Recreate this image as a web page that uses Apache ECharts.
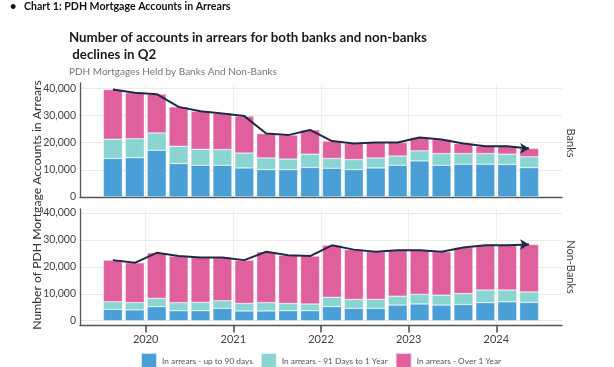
<!DOCTYPE html>
<html><head><meta charset="utf-8">
<script src="https://cdn.jsdelivr.net/npm/echarts@6/dist/echarts.min.js"></script>
<style>html,body{margin:0;padding:0;background:#fff}#c{width:614px;height:367px}</style>
</head><body><div id="c"></div>
<script>
const quarters = ['2019Q3','2019Q4','2020Q1','2020Q2','2020Q3','2020Q4','2021Q1','2021Q2','2021Q3','2021Q4',
                  '2022Q1','2022Q2','2022Q3','2022Q4','2023Q1','2023Q2','2023Q3','2023Q4','2024Q1','2024Q2'];
const yearTicks = [2020, 2021, 2022, 2023, 2024];
const valueTicks = [0, 10000, 20000, 30000, 40000];
const seriesNames = ['In arrears - up to 90 days', 'In arrears - 91 Days to 1 Year', 'In arrears - Over 1 Year'];

const banksUpTo90 = [14200,14500,17200,12300,11700,11700,10700,10100,10100,10900,10600,10100,10700,11700,13300,11700,12100,12100,12000,10800];
const banks91To1Y = [7100,7000,6400,6400,5900,5800,5500,4300,3900,4900,3600,3700,3700,3400,3700,4300,3900,3900,3800,4000];
const banksOver1Y = [18300,16900,14300,14500,14000,13300,13600,9000,8800,8900,6400,5900,5700,5000,4900,5200,3700,2700,2900,3100];

const nonBanksUpTo90 = [4200,4000,5200,3700,3700,4600,3600,3600,3700,3700,5200,4600,4600,5800,6200,5800,6000,6700,7000,6800];
const nonBanks91To1Y = [2800,2700,3100,3000,3100,2800,2800,3100,2700,2500,3500,3300,3300,3300,3600,3700,4100,4700,4400,3900];
const nonBanksOver1Y = [15500,14800,16900,17300,16700,16100,16100,18900,17900,17800,19300,18500,17700,17100,16400,16100,17100,16600,16600,17600];

const colors = ['#4a9fd6', '#8ad5d2', '#e0609d'];
const lineColor = '#1d2a44';
const FONT = 'Lato';

// Time range of the panels (years): quarters sit in the middle of their slot
const X_MIN = 2019.25, X_MAX = 2024.75;
const firstYear = +quarters[0].slice(0, 4) + (+quarters[0].slice(5) - 1) / 4;
const lastQ = quarters[quarters.length - 1];
const lastYearEnd = +lastQ.slice(0, 4) + (+lastQ.slice(5)) / 4;

const PLOT_L = 80, PLOT_R = 562;
const pxPerYear = (PLOT_R - PLOT_L) / (X_MAX - X_MIN);
const barGridLeft = PLOT_L + (firstYear - X_MIN) * pxPerYear;
const barGridRight = 614 - (PLOT_R - (X_MAX - lastYearEnd) * pxPerYear);

const totals = arrs => arrs[0].map((_, i) => arrs.reduce((s, a) => s + a[i], 0));
const lineData = arr => arr.map((v, i) => i === arr.length - 1
  ? { value: v, symbol: 'arrow', symbolSize: [8, 9], symbolRotate: -90 }
  : v);
const fmt = v => v.toLocaleString('en-US');

const panels = [
  { top: 83, height: 114, min: 0, max: 42000 },
  { top: 209, height: 116.5, min: -1800, max: 41500 }
];

function axisX(gridIndex, showLabels) {
  return {
    type: 'value', gridIndex, min: X_MIN, max: X_MAX,
    axisLine: { show: true, onZero: false, lineStyle: { color: '#555', width: 1.3 } },
    axisTick: { show: showLabels, customValues: yearTicks, length: 7, lineStyle: { color: '#444', width: 1.5 } },
    axisLabel: { show: showLabels, customValues: yearTicks, color: '#444', fontSize: 11, fontFamily: FONT, margin: 8,
                 formatter: v => String(v) },
    splitLine: { show: true, lineStyle: { color: '#eeeeee', width: 1 } }
  };
}
function axisY(gridIndex, p) {
  return {
    type: 'value', gridIndex, min: p.min, max: p.max,
    axisLine: { show: true, lineStyle: { color: '#555', width: 1.3 } },
    axisTick: { show: false, customValues: valueTicks },
    axisLabel: { customValues: valueTicks, color: '#444', fontSize: 10.5, fontFamily: FONT, margin: 4, formatter: fmt },
    splitLine: { show: true, lineStyle: { color: '#e9e9e9', width: 1 } }
  };
}
const hiddenCat = gridIndex => ({ type: 'category', gridIndex, data: quarters, show: false, boundaryGap: true });
const hiddenY = (gridIndex, p) => ({ type: 'value', gridIndex, min: p.min, max: p.max, show: false, splitLine: { show: false } });

function bars(dataArr, axisIdx, stack) {
  return dataArr.map((arr, k) => ({
    name: seriesNames[k], type: 'bar', stack, xAxisIndex: axisIdx, yAxisIndex: axisIdx,
    barWidth: 19, data: arr,
    itemStyle: { color: colors[k], borderColor: 'rgba(255,255,255,0.7)', borderWidth: 0.5 },
    emphasis: { disabled: true }
  }));
}
function totalLine(name, arrs, axisIdx) {
  return { name, type: 'line', xAxisIndex: axisIdx, yAxisIndex: axisIdx, z: 5, symbol: 'none',
    data: lineData(totals(arrs)), lineStyle: { color: lineColor, width: 2 }, itemStyle: { color: lineColor } };
}

const chart = echarts.init(document.getElementById('c'), null, { renderer: 'canvas' });
chart.setOption({
  animation: false,
  backgroundColor: '#fff',
  textStyle: { fontFamily: FONT },
  title: [
    { text: '•', left: 5, top: -4, textStyle: { fontSize: 11, fontWeight: 'bold', color: '#111', fontFamily: FONT } },
    { text: 'Chart 1: PDH Mortgage Accounts in Arrears', left: 19, top: -4,
      textStyle: { fontSize: 10.6, fontWeight: 'bold', color: '#111', fontFamily: FONT } },
    { text: 'Number of accounts in arrears for both banks and non-banks\n declines in Q2', left: 64, top: 24,
      textStyle: { fontSize: 13.3, fontWeight: 'bold', color: '#1a1a1a', fontFamily: FONT, lineHeight: 17 } },
    { text: 'PDH Mortgages Held by Banks And Non-Banks', left: 64, top: 62,
      textStyle: { fontSize: 10, fontWeight: 'normal', color: '#777', fontFamily: FONT } }
  ],
  legend: {
    data: seriesNames, left: 140, top: 352, padding: 0, itemWidth: 16, itemHeight: 16, itemGap: 7, icon: 'rect',
    textStyle: { fontSize: 8.3, color: '#555', fontFamily: FONT }
  },
  grid: [
    { left: PLOT_L, right: 614 - PLOT_R, top: panels[0].top, height: panels[0].height },
    { left: PLOT_L, right: 614 - PLOT_R, top: panels[1].top, height: panels[1].height },
    { left: barGridLeft, right: barGridRight, top: panels[0].top, height: panels[0].height },
    { left: barGridLeft, right: barGridRight, top: panels[1].top, height: panels[1].height }
  ],
  xAxis: [axisX(0, false), axisX(1, true), hiddenCat(2), hiddenCat(3)],
  yAxis: [axisY(0, panels[0]), axisY(1, panels[1]), hiddenY(2, panels[0]), hiddenY(3, panels[1])],
  series: [
    ...bars([banksUpTo90, banks91To1Y, banksOver1Y], 2, 'banks'),
    ...bars([nonBanksUpTo90, nonBanks91To1Y, nonBanksOver1Y], 3, 'nonbanks'),
    totalLine('Banks total', [banksUpTo90, banks91To1Y, banksOver1Y], 2),
    totalLine('Non-banks total', [nonBanksUpTo90, nonBanks91To1Y, nonBanksOver1Y], 3)
  ],
  graphic: [
    { type: 'text', x: 37, y: 205, rotation: Math.PI / 2,
      style: { text: 'Number of PDH Mortgage Accounts in Arrears', align: 'center', verticalAlign: 'middle',
               font: '12.2px Lato', fill: '#333' } },
    { type: 'text', x: 571, y: 143, rotation: -Math.PI / 2,
      style: { text: 'Banks', align: 'center', verticalAlign: 'middle', font: '11px Lato', fill: '#444' } },
    { type: 'text', x: 571, y: 267, rotation: -Math.PI / 2,
      style: { text: 'Non-Banks', align: 'center', verticalAlign: 'middle', font: '11px Lato', fill: '#444' } }
  ]
});
</script></body></html>
